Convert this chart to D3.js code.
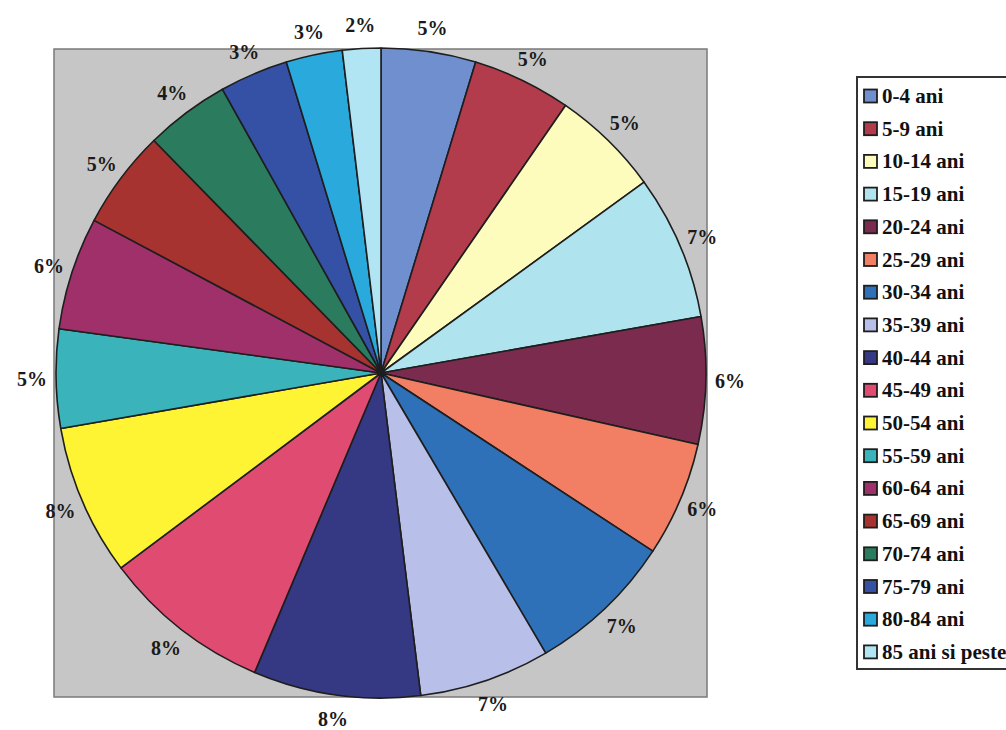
<!DOCTYPE html>
<html>
<head>
<meta charset="utf-8">
<script src="https://cdn.jsdelivr.net/npm/d3@7"></script>
<style>
  html, body { margin: 0; padding: 0; background: #ffffff; }
  svg { display: block; }
</style>
</head>
<body>
<svg id="chart" width="1006" height="730"></svg>
<script>
// Age groups (legend order = slice order, clockwise from 12 o'clock)
const categories = ["0-4 ani", "5-9 ani", "10-14 ani", "15-19 ani", "20-24 ani", "25-29 ani",
  "30-34 ani", "35-39 ani", "40-44 ani", "45-49 ani", "50-54 ani", "55-59 ani",
  "60-64 ani", "65-69 ani", "70-74 ani", "75-79 ani", "80-84 ani", "85 ani si peste"];

// Share of population per age group (%)
const values = [4.7, 4.9, 5.4, 7.2, 6.3, 5.7, 7.3, 6.5, 8.3, 8.4, 7.5, 4.9, 5.6, 4.9, 4.2, 3.4, 2.8, 1.9];

// Slice colours
const colors = ["#6f8fcf", "#b23b4c", "#fdfcbc", "#afe4ef", "#7b2c4e", "#f27f64",
  "#2f71b8", "#b8bfe8", "#353882", "#e04b71", "#fff433", "#3ab3ba",
  "#9f306a", "#a6332f", "#2b7c5f", "#3451a6", "#2aa9dc", "#b2e5f4"];

const FONT = "'Liberation Serif', 'Times New Roman', 'DejaVu Serif', serif";

const svg = d3.select("#chart");
const cx = 381, cy = 373, R = 325, labelR = 349;

// plot area (gray square bounding the pie)
svg.append("rect")
  .attr("x", 54).attr("y", 49).attr("width", 653).attr("height", 648)
  .attr("fill", "#c6c6c6").attr("stroke", "#7a7a7a").attr("stroke-width", 1.5);

const total = d3.sum(values);
const pie = d3.pie().sort(null).value(d => d.v)(values.map((v, i) => ({ v, i })));
const arc = d3.arc().innerRadius(0).outerRadius(R);
const labelArc = d3.arc().innerRadius(labelR).outerRadius(labelR);

const g = svg.append("g").attr("transform", `translate(${cx},${cy})`);
g.selectAll("path.slice").data(pie).join("path")
  .attr("class", "slice")
  .attr("d", arc)
  .attr("fill", d => colors[d.data.i])
  .attr("stroke", "#1e1e1e").attr("stroke-width", 1.6).attr("stroke-linejoin", "round");

g.selectAll("text.lbl").data(pie).join("text")
  .attr("class", "lbl")
  .attr("x", d => labelArc.centroid(d)[0])
  .attr("y", d => labelArc.centroid(d)[1])
  .attr("text-anchor", "middle")
  .attr("dominant-baseline", "central")
  .attr("font-family", FONT)
  .attr("font-weight", "bold")
  .attr("font-size", 20)
  .attr("fill", "#1a1a1a")
  .text(d => Math.round(d.data.v / total * 100) + "%");

// legend
const lx = 857, ly = 77, step = 32.7, firstY = 96;
svg.append("rect")
  .attr("x", lx).attr("y", ly).attr("width", 170).attr("height", 592)
  .attr("fill", "#ffffff").attr("stroke", "#333333").attr("stroke-width", 2);

const leg = svg.append("g");
const items = leg.selectAll("g").data(categories).join("g")
  .attr("transform", (d, i) => `translate(${lx + 7},${firstY + i * step})`);
items.append("rect")
  .attr("x", 0).attr("y", -6.5).attr("width", 13).attr("height", 13)
  .attr("fill", (d, i) => colors[i])
  .attr("stroke", "#1e1e1e").attr("stroke-width", 1.8);
items.append("text")
  .attr("x", 18).attr("y", 0)
  .attr("dominant-baseline", "central")
  .attr("font-family", FONT)
  .attr("font-weight", "bold")
  .attr("font-size", 21)
  .attr("fill", "#111111")
  .text(d => d);
</script>
</body>
</html>
